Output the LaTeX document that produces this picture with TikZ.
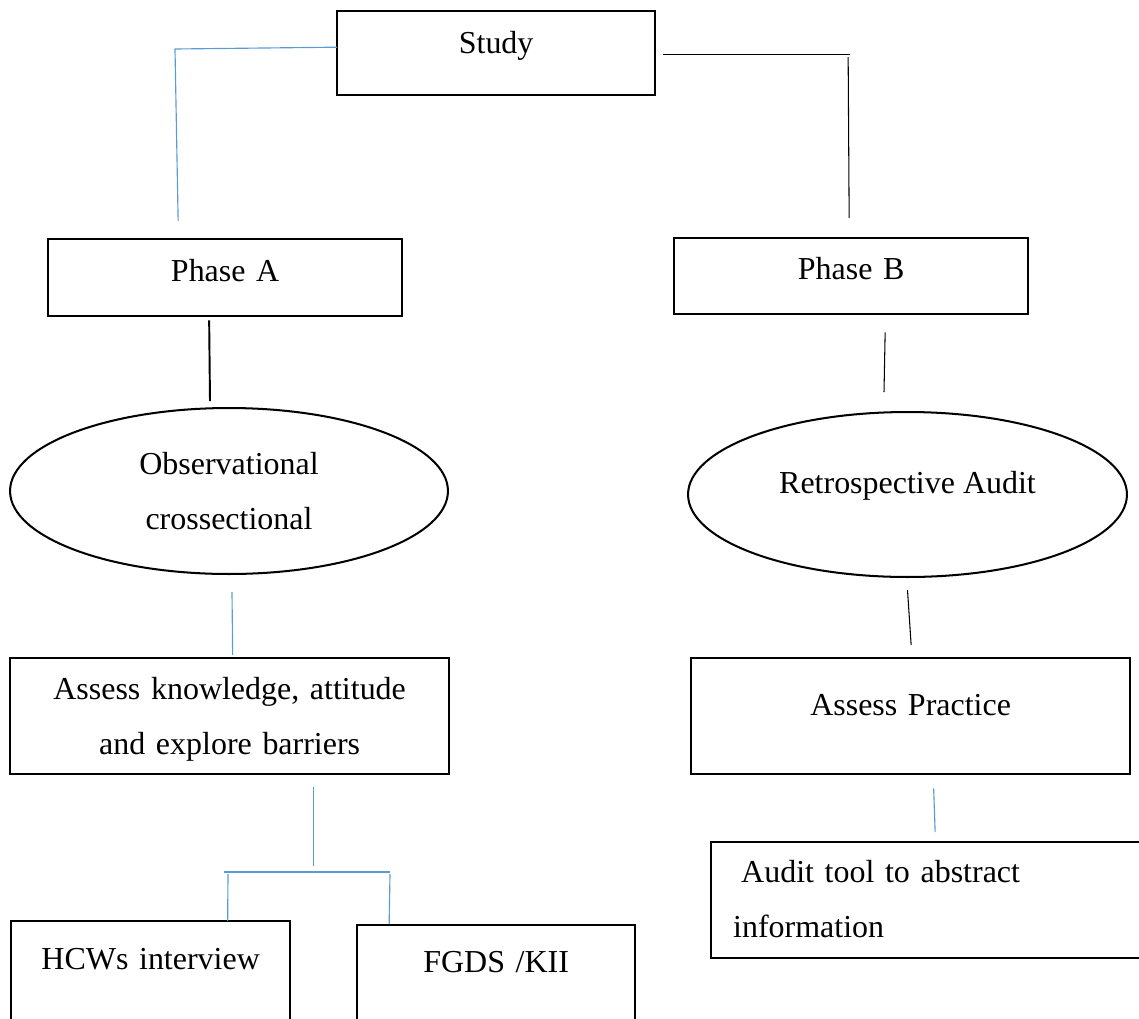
\documentclass[tikz,border=0pt]{standalone}
\usepackage{fontspec}
\setmainfont{Liberation Serif}
\usetikzlibrary{calc,shapes.geometric}
\definecolor{linkblue}{RGB}{91,155,213}

\begin{document}
\begin{tikzpicture}[x=0.02cm,y=-0.02cm,font=\fontsize{18.2}{31.3}\selectfont,
  box/.style={draw,line width=1.35pt,inner sep=0pt,anchor=north west,align=center},
  oval/.style={draw,ellipse,line width=1.15pt,inner sep=0pt,align=center},
  blueln/.style={linkblue,line width=0.65pt},
  blackln/.style={black,line width=0.6pt}]
\useasboundingbox (0,0) rectangle (1139,1018);
\clip (0,0) rectangle (1139,1018);
\node[box,text width=6.36cm,text height=0.854cm,text depth=0.826cm] (study) at (336,10) {Study};
\node[box,text width=7.08cm,text height=0.854cm,text depth=0.686cm] (phaseA) at (47,238) {Phase A};
\node[box,text width=7.08cm,text height=0.826cm,text depth=0.694cm] (phaseB) at (673,237) {Phase B};
\node[oval,minimum width=8.76cm,minimum height=3.32cm] (obs) at (229,491) {Observational\\crossectional};
\node[oval,minimum width=8.78cm,minimum height=3.3cm,text height=0.44cm,text depth=0.5cm] (retro) at (907.5,494.5) {Retrospective Audit};
\node[box,text width=8.78cm,text height=0.826cm,text depth=1.494cm] (assessK) at (9,657) {Assess knowledge, attitude\\and explore barriers};
\node[box,text width=8.78cm,text height=1.14cm,text depth=1.18cm] (assessP) at (690,657) {Assess Practice};
\node[box,align=left,inner xsep=0.44cm,text width=7.9cm,text height=0.814cm,text depth=1.506cm] (audit) at (710,841) {\hspace*{0.16cm}Audit tool to abstract\\information};
\node[box,text width=5.58cm,text height=0.96cm,text depth=1.24cm] (hcw) at (10,920) {HCWs interview};
\node[box,text width=5.56cm,text height=0.94cm,text depth=1.24cm] (fgds) at (356,924) {FGDS /KII};

\draw[blueln] ($(study.west)+(1,-6)$) -- (175,49) -- ($(phaseA.north)+(-47,-17)$);
\draw[blackln] ($(study.east)+(7,1)$) -- ++(187,0);
\draw[blackln] ($(phaseB.north)+(-3,-180)$) -- ($(phaseB.north)+(-2,-19)$);
\draw[line width=1.1pt] ($(phaseA.south)+(-16,3)$) -- ($(obs.north)+(-19,-6)$);
\draw[blueln] ($(obs.south)+(3,17)$) -- ($(assessK.north)+(3,-2)$);
\draw[blackln] ($(phaseB.south)+(34,17)$) -- ($(retro.north)+(-23.5,-19)$);
\draw[blackln] ($(retro.south)+(0,12)$) -- ($(assessP.north)+(0.5,-12)$);
\draw[blueln] ($(assessK.south)+(83.5,12)$) -- ++(0,79);
\draw[blueln] (224,872) coordinate (barL) -- (390,872) coordinate (barR);
\draw[blueln] ($(barL)+(4,2)$) -- ($(hcw.north)+(77,1)$);
\draw[blueln] ($(barR)+(0,2)$) -- ($(fgds.north)+(-107,0)$);
\draw[blueln] ($(assessP.south)+(23,13)$) -- ($(audit.north)+(4.5,-9)$);
\end{tikzpicture}
\end{document}
